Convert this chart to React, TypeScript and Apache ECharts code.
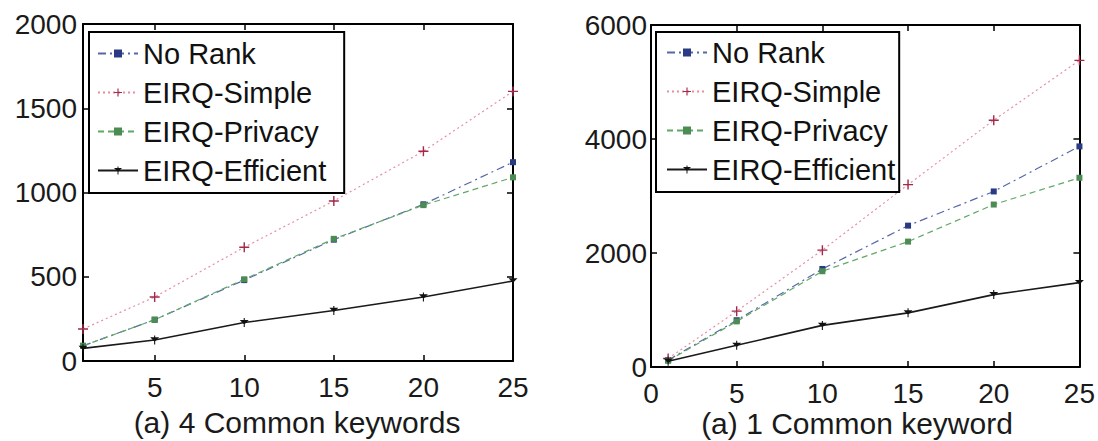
import React, { useEffect, useRef } from "react";
import * as echarts from "echarts";

const X_VALUES = [1, 5, 10, 15, 20, 25];
const SERIES_NAMES = ["No Rank", "EIRQ-Simple", "EIRQ-Privacy", "EIRQ-Efficient"];

// (a) 4 Common keywords
const LEFT_NO_RANK = [90, 245, 480, 720, 930, 1180];
const LEFT_SIMPLE = [190, 380, 675, 950, 1245, 1600];
const LEFT_PRIVACY = [90, 245, 485, 725, 925, 1090];
const LEFT_EFFICIENT = [75, 125, 228, 300, 380, 475];

// (a) 1 Common keyword
const RIGHT_NO_RANK = [120, 820, 1720, 2480, 3080, 3870];
const RIGHT_SIMPLE = [150, 980, 2050, 3200, 4330, 5380];
const RIGHT_PRIVACY = [110, 800, 1680, 2200, 2850, 3320];
const RIGHT_EFFICIENT = [100, 380, 730, 950, 1270, 1480];

const LEFT_X_TICKS = [5, 10, 15, 20, 25];
const LEFT_TITLE = "(a) 4 Common keywords";
const RIGHT_TITLE = "(a) 1 Common keyword";

const FONT = "'Liberation Sans', Arial, Helvetica, sans-serif";
const PLUS = "path://M4.3,0h1.4v4.3h4.3v1.4h-4.3v4.3h-1.4v-4.3h-4.3v-1.4h4.3z";
const STAR = "path://M0,2h10l-5,5z M4.4,0h1.2v10h-1.2z";

const STYLES = [
  { line: "#5668a8", item: "#2b3a85", type: [8, 4, 2, 4], symbol: "rect", size: 6, width: 1.2 },
  { line: "#e88ea0", item: "#a3284a", type: [2, 3], symbol: PLUS, size: 10, width: 1.2 },
  { line: "#5fa865", item: "#4b8c52", type: [6, 4], symbol: "rect", size: 6, width: 1.2 },
  { line: "#1a1a1a", item: "#111111", type: "solid", symbol: STAR, size: 9, width: 1.6 },
];

function pair(vals: number[]) {
  return X_VALUES.map((x, i) => [x, vals[i]]);
}

function makeSeries(sets: number[][], axisIndex: number) {
  return sets.map((vals, i) => ({
    name: SERIES_NAMES[i],
    type: "line",
    xAxisIndex: axisIndex,
    yAxisIndex: axisIndex,
    data: pair(vals),
    symbol: STYLES[i].symbol,
    symbolSize: STYLES[i].size,
    symbolKeepAspect: true,
    lineStyle: { color: STYLES[i].line, width: STYLES[i].width, type: STYLES[i].type },
    itemStyle: { color: STYLES[i].item },
    z: 2 + i,
  }));
}

const plain = (v: number) => String(v);
const axisLine = { show: true, onZero: false, lineStyle: { color: "#000", width: 2 } };
const tickStyle = { color: "#000", width: 1.5 };
const labelStyle = { fontSize: 28, color: "#1a1a1a", fontFamily: FONT, formatter: plain };
const titleStyle = { fontSize: 30, fontWeight: "normal", color: "#1a1a1a", fontFamily: FONT };

export default function App() {
  const ref = useRef<HTMLDivElement>(null);
  useEffect(() => {
    if (!ref.current) return;
    const chart = echarts.init(ref.current, null, { renderer: "svg" });
    const legendBase = {
      orient: "vertical",
      top: 32,
      itemWidth: 40,
      itemHeight: 10,
      itemGap: 10,
      borderColor: "#000",
      borderWidth: 2,
      backgroundColor: "#fff",
      borderRadius: 0,
      data: SERIES_NAMES,
      textStyle: { fontSize: 29, color: "#111", fontFamily: FONT },
      selectedMode: false,
      z: 10,
    };
    chart.setOption({
      animation: false,
      backgroundColor: "#fff",
      title: [
        { text: LEFT_TITLE, left: 297, top: 407, padding: 0, textAlign: "center", textStyle: titleStyle },
        { text: RIGHT_TITLE, left: 857, top: 408, padding: 0, textAlign: "center", textStyle: titleStyle },
      ],
      legend: [
        { ...legendBase, left: 89, padding: [7, 18, 8, 8] },
        { ...legendBase, left: 656, padding: [6, 4, 8, 10] },
      ],
      grid: [
        { left: 83, top: 24, right: 585, bottom: 80 },
        { left: 651, top: 25, right: 18, bottom: 74 },
      ],
      xAxis: [
        {
          type: "value", gridIndex: 0, min: 1, max: 25, position: "bottom",
          axisLine,
          axisTick: { show: true, inside: true, length: 6, customValues: LEFT_X_TICKS, lineStyle: tickStyle },
          axisLabel: { ...labelStyle, margin: 12, customValues: LEFT_X_TICKS },
          splitLine: { show: false },
        },
        {
          type: "value", gridIndex: 1, min: 0, max: 25, interval: 5, position: "bottom",
          axisLine,
          axisTick: { show: true, inside: true, length: 6, lineStyle: tickStyle },
          axisLabel: { ...labelStyle, margin: 12, showMinLabel: true, showMaxLabel: true },
          splitLine: { show: false },
        },
        {
          type: "value", gridIndex: 0, min: 1, max: 25, position: "top",
          axisLine,
          axisTick: { show: true, inside: true, length: 6, customValues: LEFT_X_TICKS, lineStyle: tickStyle },
          axisLabel: { show: false },
          splitLine: { show: false },
        },
        {
          type: "value", gridIndex: 1, min: 0, max: 25, interval: 5, position: "top",
          axisLine,
          axisTick: { show: true, inside: true, length: 6, lineStyle: tickStyle },
          axisLabel: { show: false },
          splitLine: { show: false },
        },
      ],
      yAxis: [
        {
          type: "value", gridIndex: 0, min: 0, max: 2000, interval: 500, position: "left",
          axisLine,
          axisTick: { show: true, inside: true, length: 6, lineStyle: tickStyle },
          axisLabel: { ...labelStyle, margin: 6, showMinLabel: true, showMaxLabel: true },
          splitLine: { show: false },
        },
        {
          type: "value", gridIndex: 1, min: 0, max: 6000, interval: 2000, position: "left",
          axisLine,
          axisTick: { show: true, inside: true, length: 6, lineStyle: tickStyle },
          axisLabel: { ...labelStyle, margin: 4, showMinLabel: true, showMaxLabel: true },
          splitLine: { show: false },
        },
        {
          type: "value", gridIndex: 0, min: 0, max: 2000, interval: 500, position: "right",
          axisLine,
          axisTick: { show: true, inside: true, length: 6, lineStyle: tickStyle },
          axisLabel: { show: false },
          splitLine: { show: false },
        },
        {
          type: "value", gridIndex: 1, min: 0, max: 6000, interval: 2000, position: "right",
          axisLine,
          axisTick: { show: true, inside: true, length: 6, lineStyle: tickStyle },
          axisLabel: { show: false },
          splitLine: { show: false },
        },
      ],
      series: [
        ...makeSeries([LEFT_NO_RANK, LEFT_SIMPLE, LEFT_PRIVACY, LEFT_EFFICIENT], 0),
        ...makeSeries([RIGHT_NO_RANK, RIGHT_SIMPLE, RIGHT_PRIVACY, RIGHT_EFFICIENT], 1),
      ],
    });
    return () => chart.dispose();
  }, []);
  return (
    <div
      ref={ref}
      style={{ position: "fixed", left: 0, top: 0, width: 1098, height: 441, background: "#fff" }}
    />
  );
}
